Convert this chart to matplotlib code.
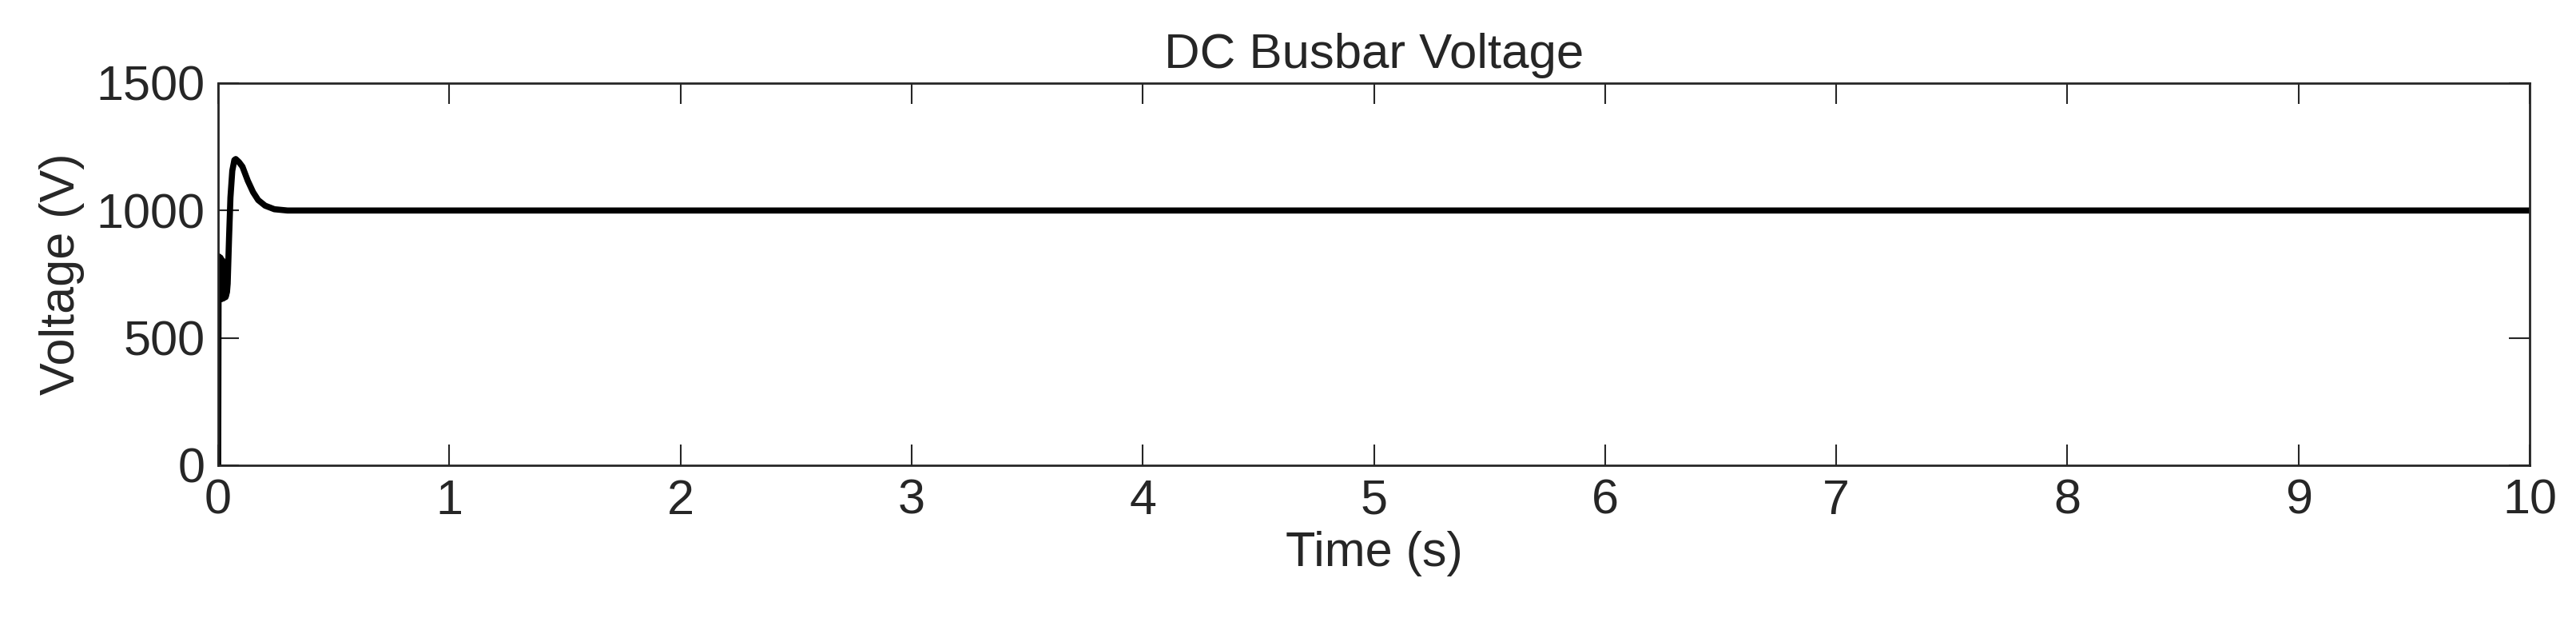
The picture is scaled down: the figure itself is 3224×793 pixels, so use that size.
import matplotlib
matplotlib.use("Agg")
import matplotlib.pyplot as plt

# DC busbar voltage (time in s, voltage in V)
time_s = [0.0, 0.002, 0.006, 0.010, 0.014, 0.018, 0.022, 0.026, 0.032, 0.038,
          0.041, 0.047, 0.053, 0.061, 0.070, 0.076, 0.090, 0.105, 0.128,
          0.151, 0.173, 0.203, 0.243, 0.300, 1.0, 2.0, 5.0, 10.0]
voltage_v = [0, 820, 650, 815, 652, 805, 655, 795, 660, 680,
             713, 892, 1051, 1156, 1198, 1202, 1190, 1172, 1117,
             1072, 1041, 1019, 1005, 1000, 1000, 1000, 1000, 1000]

x_ticks = [0, 1, 2, 3, 4, 5, 6, 7, 8, 9, 10]
y_ticks = [0, 500, 1000, 1500]

plt.rcParams['font.family'] = ['Liberation Sans', 'DejaVu Sans']
plt.rcParams['font.size'] = 44

txt = '#262626'
fig = plt.figure(figsize=(32.24, 7.93), dpi=100)
ax = fig.add_axes([0.0847, 0.2661, 0.8973, 0.6028])

ax.plot(time_s, voltage_v, color='black', linewidth=5.5, solid_joinstyle='round')

ax.set_xlim(0, 10)
ax.set_ylim(0, 1500)
ax.set_xticks(x_ticks)
ax.set_yticks(y_ticks)
ax.tick_params(direction='in', length=19, width=1.5, top=True, right=True,
               colors=txt, labelcolor=txt, pad=12)
for s in ax.spines.values():
    s.set_linewidth(2)
    s.set_color(txt)

ax.set_title('DC Busbar Voltage', color=txt, fontsize=44.5, pad=14)
ax.set_xlabel('Time (s)', color=txt, labelpad=6)
ax.set_ylabel('Voltage (V)', color=txt, labelpad=10)

fig.savefig('out.png', dpi=100, facecolor='white')
